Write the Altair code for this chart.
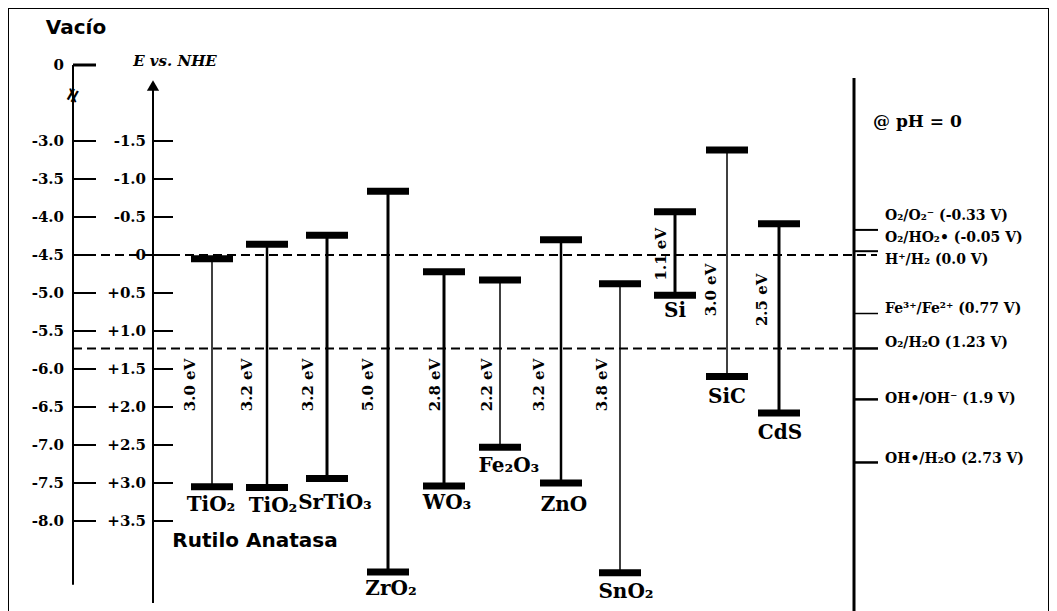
import altair as alt
import pandas as pd

# ---------------- data ----------------
materials = ["TiO₂", "TiO₂", "SrTiO₃", "ZrO₂", "WO₃", "Fe₂O₃", "ZnO", "SnO₂", "Si", "SiC", "CdS"]
cb_nhe = [0.05, -0.14, -0.26, -0.84, 0.22, 0.33, -0.20, 0.38, -0.57, -1.38, -0.41]
vb_nhe = [3.05, 3.06, 2.94, 4.17, 3.04, 2.53, 3.00, 4.18, 0.53, 1.60, 2.08]
gap_text = ["3.0 eV", "3.2 eV", "3.2 eV", "5.0 eV", "2.8 eV", "2.2 eV",
            "3.2 eV", "3.8 eV", "1.1 eV", "3.0 eV", "2.5 eV"]

vacuum_ticks = [-3.0, -3.5, -4.0, -4.5, -5.0, -5.5, -6.0, -6.5, -7.0, -7.5, -8.0]
vacuum_labels = ["-3.0", "-3.5", "-4.0", "-4.5", "-5.0", "-5.5", "-6.0", "-6.5", "-7.0", "-7.5", "-8.0"]
nhe_ticks = [-1.5, -1.0, -0.5, 0.0, 0.5, 1.0, 1.5, 2.0, 2.5, 3.0, 3.5]
nhe_labels = ["-1.5", "-1.0", "-0.5", "0", "+0.5", "+1.0", "+1.5", "+2.0", "+2.5", "+3.0", "+3.5"]
vacuum_to_nhe = -4.5   # E_vac = -4.5 - E_NHE

couples = ["O₂/O₂⁻ (-0.33 V)", "O₂/HO₂• (-0.05 V)", "H⁺/H₂ (0.0 V)", "Fe³⁺/Fe²⁺ (0.77 V)",
           "O₂/H₂O (1.23 V)", "OH•/OH⁻ (1.9 V)", "OH•/H₂O (2.73 V)"]
couple_v = [-0.33, -0.05, 0.0, 0.77, 1.23, 1.9, 2.73]
reference_levels = [0.0, 1.23]

# ---------------- layout / style ----------------
PX_PER_V = 76
mat_x = [212, 267, 327, 388, 444, 500, 561, 620, 675, 727, 779]
stem_w = [1.5, 2.5, 3, 3, 3, 1.5, 2.5, 1.5, 3, 1.5, 3]
gap_x = [190, 247, 308, 368, 435, 487, 539, 602, 661, 711, 762]
gap_y = [1.71, 1.71, 1.71, 1.71, 1.71, 1.71, 1.71, 1.71, -0.01, 0.46, 0.59]
name_x = [211, 273, 335, 391, 447, 509, 564, 626, 675, 727, 780]
name_dy = [18, 18, 25, 17, 17, 19, 22, 19, 16, 20, 20]
couple_tick_w = [2, 2, 0, 1.5, 2.5, 2.5, 2.5]
couple_dy = [-14, -13, 5, -5, -5, 0, -3]
dash_x1 = [877, 854]

X = alt.Scale(domain=[8, 1049], nice=False, zero=False)
Y = alt.Scale(domain=[-3.25, 4.724], nice=False, zero=False, reverse=True)


def ex(f):
    return alt.X(f, type="quantitative", scale=X, axis=None)


def ey(f):
    return alt.Y(f, type="quantitative", scale=Y, axis=None)


SERIF = "DejaVu Serif"
SANS = "DejaVu Sans"

sc = pd.DataFrame(dict(name=materials, cb=cb_nhe, vb=vb_nhe, gap=gap_text, x=mat_x,
                       stem=stem_w, gx=gap_x, gy=gap_y, nx=name_x, ndy=name_dy))
base = alt.Chart(sc)

edges = base.transform_fold(["cb", "vb"], as_=["edge", "v"]).transform_calculate(
    x0="datum.x - 21", x1="datum.x + 21"
).mark_rule(strokeWidth=7, color="black").encode(x=ex("x0"), x2="x1:Q", y=ey("v"))

stems = base.mark_rule(color="black").encode(
    x=ex("x"), y=ey("cb"), y2="vb:Q", strokeWidth=alt.StrokeWidth("stem:Q", scale=None)
)

gap_lbl = base.mark_text(angle=270, font=SERIF, fontWeight="bold", fontSize=15,
                         align="center", baseline="middle", color="black").encode(
    x=ex("gx"), y=ey("gy"), text="gap:N")

names = base.transform_calculate(ny=f"datum.vb + datum.ndy / {PX_PER_V}").mark_text(
    font=SERIF, fontWeight="bold", fontSize=20, align="center", baseline="middle", color="black"
).encode(x=ex("nx"), y=ey("ny"), text="name:N")

# dashed reference levels
dash_df = pd.DataFrame(dict(v=reference_levels, x0=[73, 73], x1=dash_x1))
dashed = alt.Chart(dash_df).mark_rule(strokeDash=[9, 5], strokeWidth=2, color="black").encode(
    x=ex("x0"), x2="x1:Q", y=ey("v"))

# axis lines
ax_df = pd.DataFrame(dict(x=[73, 153, 854], v0=[-2.5, -2.25, -2.33], v1=[4.34, 4.58, 4.75],
                          w=[2, 2, 3]))
axes = alt.Chart(ax_df).mark_rule(color="black").encode(
    x=ex("x"), y=ey("v0"), y2="v1:Q", strokeWidth=alt.StrokeWidth("w:Q", scale=None))

arrow = alt.Chart(pd.DataFrame(dict(x=[153], v=[-2.23]))).mark_point(
    shape="triangle-up", filled=True, size=150, color="black", opacity=1).encode(
    x=ex("x"), y=ey("v"))

# vacuum ticks
vac_df = pd.DataFrame(dict(e=vacuum_ticks, lab=vacuum_labels))
vac_base = alt.Chart(vac_df).transform_calculate(v=f"{vacuum_to_nhe} - datum.e", x0="73", x1="96", xl="64")
vac_ticks = vac_base.mark_rule(strokeWidth=2, color="black").encode(x=ex("x0"), x2="x1:Q", y=ey("v"))
vac_text = vac_base.mark_text(font=SERIF, fontWeight="bold", fontSize=15, align="right",
                              baseline="middle", color="black").encode(x=ex("xl"), y=ey("v"), text="lab:N")

zero_df = pd.DataFrame(dict(v=[-2.5], x0=[73], x1=[96], xl=[64], lab=["0"]))
zero_tick = alt.Chart(zero_df).mark_rule(strokeWidth=3, color="black").encode(x=ex("x0"), x2="x1:Q", y=ey("v"))
zero_text = alt.Chart(zero_df).mark_text(font=SERIF, fontWeight="bold", fontSize=15, align="right",
                                         baseline="middle", color="black").encode(x=ex("xl"), y=ey("v"), text="lab:N")
brk = alt.Chart(pd.DataFrame(dict(x=[73], v=[-2.1], t=["≠"]))).mark_text(
    font=SERIF, fontWeight="bold", fontSize=20, align="center", baseline="middle", angle=300,
    color="black").encode(x=ex("x"), y=ey("v"), text="t:N")

# NHE ticks
nhe_df = pd.DataFrame(dict(v=nhe_ticks, lab=nhe_labels))
nhe_base = alt.Chart(nhe_df).transform_calculate(x0="153", x1="173", xl="146")
nhe_tick_m = nhe_base.mark_rule(strokeWidth=2, color="black").encode(x=ex("x0"), x2="x1:Q", y=ey("v"))
nhe_text = nhe_base.mark_text(font=SERIF, fontWeight="bold", fontSize=15, align="right",
                              baseline="middle", color="black").encode(x=ex("xl"), y=ey("v"), text="lab:N")

# redox couples on the right
cp_df = pd.DataFrame(dict(lab=couples, v=couple_v, w=couple_tick_w, dy=couple_dy))
cp_base = alt.Chart(cp_df)
cp_ticks = cp_base.transform_filter("datum.w > 0").transform_calculate(x0="854", x1="878").mark_rule(
    color="black").encode(x=ex("x0"), x2="x1:Q", y=ey("v"),
                          strokeWidth=alt.StrokeWidth("w:Q", scale=None))
cp_text = cp_base.transform_calculate(xl="885", vl=f"datum.v + datum.dy / {PX_PER_V}").mark_text(
    font=SERIF, fontWeight="bold", fontSize=14, align="left", baseline="middle", color="black").encode(
    x=ex("xl"), y=ey("vl"), text="lab:N")

# annotations
ann1 = alt.Chart(pd.DataFrame(dict(x=[175], v=[-2.55], t=["E vs. NHE"]))).mark_text(
    font=SERIF, fontWeight="bold", fontStyle="italic", fontSize=15,
    align="center", baseline="middle", color="black").encode(x=ex("x"), y=ey("v"), text="t:N")
ann2 = alt.Chart(pd.DataFrame(dict(x=[873], v=[-1.75], t=["@ pH = 0"]))).mark_text(
    font=SERIF, fontWeight="bold", fontSize=17, align="left", baseline="middle", color="black").encode(
    x=ex("x"), y=ey("v"), text="t:N")
ann3 = alt.Chart(pd.DataFrame(dict(x=[76, 255], v=[-2.99, 3.76], t=["Vacío", "Rutilo Anatasa"]))).mark_text(
    font=SANS, fontWeight="bold", fontSize=20, align="center", baseline="middle", color="black").encode(
    x=ex("x"), y=ey("v"), text="t:N")

chart = alt.layer(
    dashed, axes, arrow, vac_ticks, vac_text, zero_tick, zero_text, brk,
    nhe_tick_m, nhe_text, stems, edges, gap_lbl, names, cp_ticks, cp_text, ann1, ann2, ann3
).properties(width=1041, height=606, padding=0, autosize="none", background="white").configure_view(
    stroke="black", strokeWidth=2)

chart.save("out.html", embed_options={"renderer": "svg", "actions": False})
